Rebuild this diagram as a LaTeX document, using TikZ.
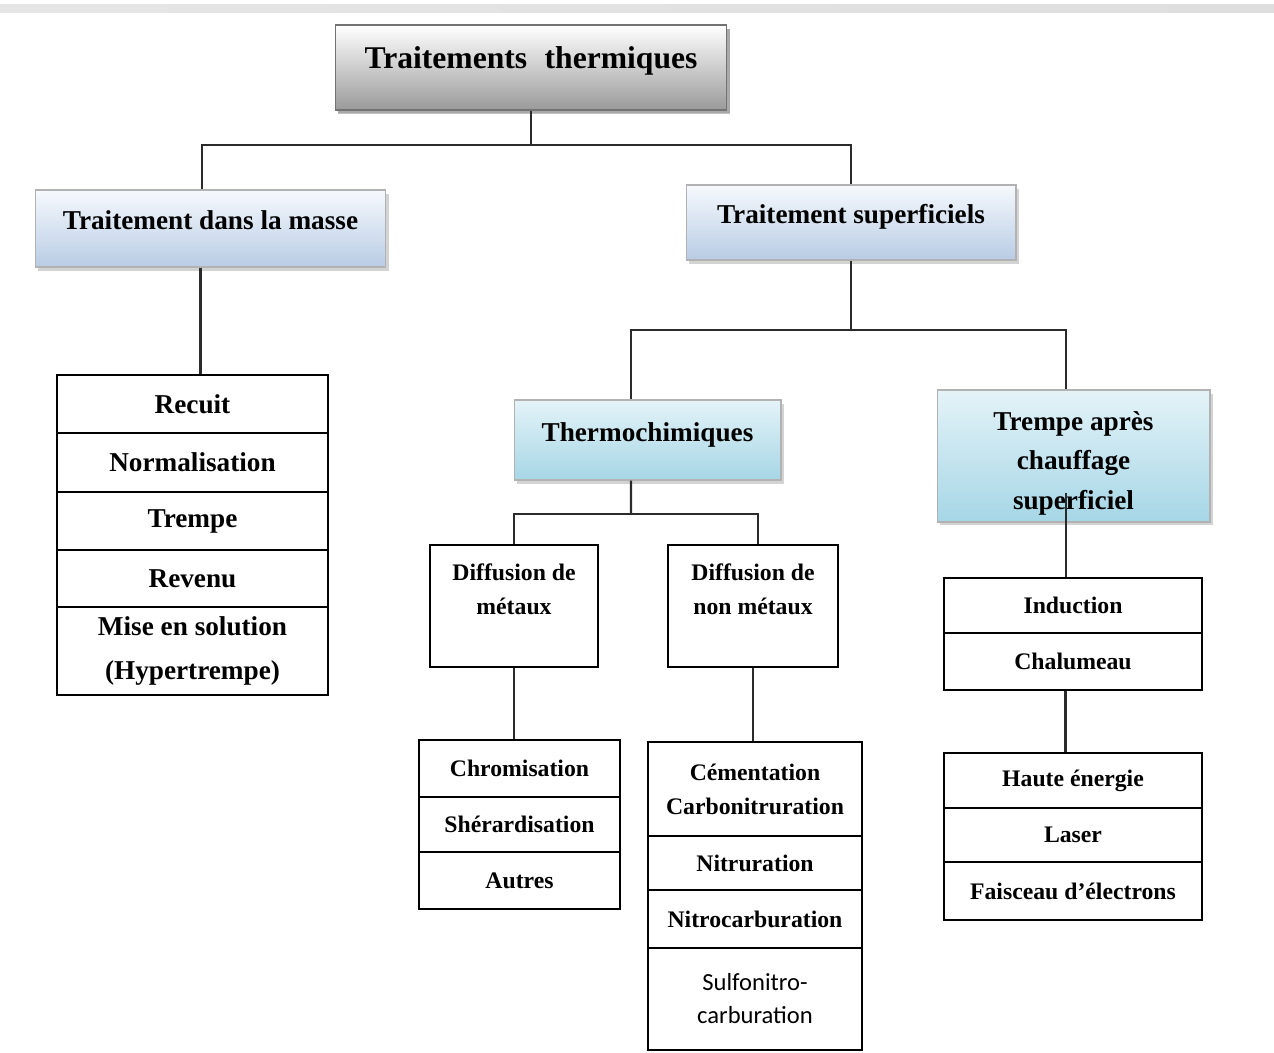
\documentclass[tikz,border=0pt]{standalone}
\usepackage{fontspec}
\setmainfont{Liberation Serif}
\newfontfamily\calibfont{Carlito}
\usetikzlibrary{shadows}

\definecolor{titlebot}{HTML}{9A9A9A}
\definecolor{bluetop}{HTML}{F6F9FD}
\definecolor{bluebot}{HTML}{B8CCE4}
\definecolor{aquatop}{HTML}{E4F3F8}
\definecolor{aquabot}{HTML}{A6D6E6}
\definecolor{linkgray}{HTML}{2B2B2B}

\begin{document}
\begin{tikzpicture}[x=0.02cm, y=-0.02cm,
  link/.style={line width=1.2pt, draw=linkgray},
  headbox/.style={draw=black!30, line width=0.6pt, align=center, inner sep=0pt,
    font=\bfseries\fontsize{15.5}{22.5}\selectfont,
    drop shadow={opacity=0.35, shadow xshift=1.5pt, shadow yshift=-2pt}},
  onerow/.style={text height=9pt, text depth=7.5pt},
  titlebox/.style={headbox, onerow, draw=black!55, top color=white, bottom color=titlebot,
    font=\bfseries\fontsize{18}{22}\selectfont,
    drop shadow={opacity=0.5, shadow xshift=1.5pt, shadow yshift=-2.5pt}},
  bluebox/.style={headbox, onerow, top color=bluetop, bottom color=bluebot},
  aquabox/.style={headbox, top color=aquatop, bottom color=aquabot},
  cell/.style={draw, line width=1.1pt, fill=white, align=center, inner sep=0pt},
  bigcell/.style={cell, minimum width=5.42cm, font=\bfseries\fontsize{15.5}{25.5}\selectfont},
  smallcell/.style={cell, font=\bfseries\fontsize{13.5}{19.3}\selectfont}]
  \useasboundingbox (0,0) rectangle (1274,1053);
  \shade[left color=black!10, middle color=cyan!6, right color=black!13] (0,5) rectangle (1274,13);

  % headers
  \node[titlebox, minimum width=7.84cm, minimum height=1.70cm] (title) at (531,67.5) {Traitements\hspace{0.3em} thermiques};
  \node[bluebox, minimum width=7.02cm, minimum height=1.54cm] (masse) at (210.5,228.5) {Traitement dans la masse};
  \node[bluebox, minimum width=6.60cm, minimum height=1.50cm] (superf) at (851,222.5) {Traitement superficiels};
  \node[aquabox, onerow, minimum width=5.34cm, minimum height=1.60cm] (thermo) at (647.5,440) {Thermochimiques};
  \node[aquabox, minimum width=5.46cm, minimum height=2.64cm] (tremp) at (1073.5,456) {\rule{0pt}{19pt}Trempe après\\chauffage\\superficiel};

  % dans la masse
  \node[bigcell, minimum height=1.16cm] (recuit) at (192.5,404) {Recuit};
  \node[bigcell, minimum height=1.18cm] (norm) at (192.5,462.5) {Normalisation};
  \node[bigcell, minimum height=1.16cm] (trempe) at (192.5,521) {Trempe};
  \node[bigcell, minimum height=1.14cm] (revenu) at (192.5,578.5) {Revenu};
  \node[bigcell, minimum height=1.76cm] (sol) at (192.5,651) {Mise en solution\\(Hypertrempe)};

  % thermochimiques
  \node[smallcell, minimum width=3.36cm, minimum height=2.44cm] (dm) at (514,606) {Diffusion de\\métaux\\\mbox{}};
  \node[smallcell, minimum width=3.40cm, minimum height=2.44cm] (dnm) at (753,606) {Diffusion de\\non métaux\\\mbox{}};
  \node[smallcell, minimum width=4.02cm, minimum height=1.14cm] (chrom) at (519.5,768.5) {Chromisation};
  \node[smallcell, minimum width=4.02cm, minimum height=1.10cm] (sher) at (519.5,824.5) {Shérardisation};
  \node[smallcell, minimum width=4.02cm, minimum height=1.14cm] (autres) at (519.5,880.5) {Autres};
  \node[smallcell, minimum width=4.28cm, minimum height=1.88cm] (cem) at (755,789) {Cémentation\\Carbonitruration};
  \node[smallcell, minimum width=4.28cm, minimum height=1.08cm] (nitr) at (755,863) {Nitruration};
  \node[smallcell, minimum width=4.28cm, minimum height=1.16cm] (nitroc) at (755,919) {Nitrocarburation};
  \node[smallcell, minimum width=4.28cm, minimum height=2.04cm, font=\calibfont\fontsize{14}{18.8}\selectfont] (sulfo) at (755,999) {Sulfonitro-\\carburation};

  % trempe apres chauffage
  \node[smallcell, minimum width=5.16cm, minimum height=1.10cm] (ind) at (1073,605.5) {Induction};
  \node[smallcell, minimum width=5.16cm, minimum height=1.14cm] (chal) at (1073,661.5) {Chalumeau};
  \node[smallcell, minimum width=5.16cm, minimum height=1.10cm] (haute) at (1073,780.5) {Haute énergie};
  \node[smallcell, minimum width=5.16cm, minimum height=1.08cm] (laser) at (1073,835) {Laser};
  \node[smallcell, minimum width=5.16cm, minimum height=1.16cm] (faisc) at (1073,891) {Faisceau d’électrons};

  % connectors
  \coordinate (bus1) at (531,145);
  \coordinate (bus2) at (851,330);
  \coordinate (bus3) at (631,514);
  \draw[link] (title.south) -- (bus1);
  \draw[link] ([xshift=-0.17cm]masse.north) |- (bus1) -| (superf.north);
  \draw[link] ([xshift=-0.2cm]masse.south) -- ([xshift=-0.2cm]masse.south |- recuit.north);
  \draw[link] (superf.south) -- (bus2);
  \draw[link] ([xshift=-0.33cm]thermo.north) |- (bus2) -| ([xshift=-0.15cm]tremp.north);
  \draw[link] ([xshift=-0.33cm]thermo.south) -- (bus3);
  \draw[link] (dm.north) |- (bus3) -| ([xshift=0.1cm]dnm.north);
  \draw[link] (dm.south) -- (dm.south |- chrom.north);
  \draw[link] (dnm.south) -- (dnm.south |- cem.north);
  \draw[link] ([xshift=-0.15cm,yshift=0.6cm]tremp.south) -- ([xshift=-0.15cm]tremp.south |- ind.north);
  \draw[link] ([xshift=-0.15cm]chal.south) -- ([xshift=-0.15cm]chal.south |- haute.north);
\end{tikzpicture}
\end{document}
